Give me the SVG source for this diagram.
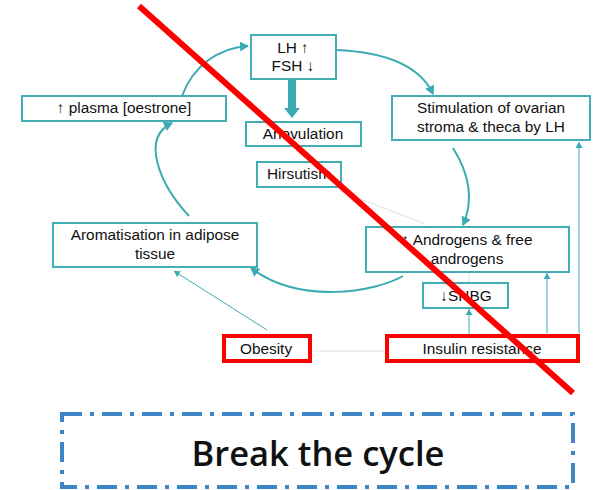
<svg xmlns="http://www.w3.org/2000/svg" width="595" height="490" viewBox="0 0 595 490">
<style>
.box{fill:#fff;stroke:#41adb5;stroke-width:2}
.rbox{fill:#fff;stroke:#ff0000;stroke-width:4}
.t{font-family:"Liberation Sans",Arial,sans-serif;font-size:15.4px;fill:#111;text-anchor:middle}
.c{fill:none;stroke:#3aabb3;stroke-width:2}
.thin{fill:none;stroke:#3aabb3;stroke-width:1}
.faint{fill:none;stroke:#e2e2e2;stroke-width:1.2}
</style>
<defs>
<marker id="ah" markerWidth="10" markerHeight="10" refX="8" refY="5" orient="auto" markerUnits="userSpaceOnUse">
<path d="M0,0 L9,5 L0,10 Z" fill="#3aabb3"/>
</marker>
<marker id="ahs" markerWidth="7" markerHeight="7" refX="6" refY="3.5" orient="auto" markerUnits="userSpaceOnUse">
<path d="M0,0 L6,3.5 L0,7 Z" fill="#3aabb3"/>
</marker>
</defs>
<rect width="595" height="490" fill="#fff"/>
<g id="connectors">
<path class="c" d="M182,96 C193,66 218,48 248,46" marker-end="url(#ah)"/>
<path class="c" d="M336,50 C385,52 420,66 433,94" marker-end="url(#ah)"/>
<path class="c" d="M453,148 C470,175 474,200 463,225" marker-end="url(#ah)"/>
<path class="c" d="M403,276 C375,292 300,305 251,268" marker-end="url(#ah)"/>
<path class="c" d="M189,216 C160,185 140,138 172,123" marker-end="url(#ah)"/>
<path d="M288,80 H296 V108 H300 L292,118 L284,108 H288 Z" fill="#3aabb3"/>
<path class="thin" d="M267,330 L174,271" marker-end="url(#ahs)"/>
<path class="thin" d="M469,335 V309" marker-end="url(#ahs)"/>
<path class="thin" d="M547,333 V273" marker-end="url(#ahs)"/>
<path class="thin" d="M579,333 V142" marker-end="url(#ahs)"/>
<path class="faint" d="M313,351 H385"/>
<path class="faint" d="M340,191 L425,224"/>
<path class="faint" d="M469,272 V283"/>
</g>
<g id="lh">
<rect class="box" x="251" y="35" width="85" height="44"/>
<text class="t" x="293" y="53">LH ↑</text>
<text class="t" x="293" y="71">FSH ↓</text>
</g>
<g id="plasma">
<rect class="box" x="22" y="96" width="204" height="25"/>
<text class="t" x="124" y="113">↑ plasma [oestrone]</text>
</g>
<g id="anovulation">
<rect class="box" x="246" y="122" width="115" height="24"/>
<text class="t" x="303" y="139">Anovulation</text>
</g>
<g id="hirsutism">
<rect class="box" x="257" y="162" width="84" height="25"/>
<text class="t" x="299" y="179">Hirsutism</text>
</g>
<g id="stimulation">
<rect class="box" x="392" y="96" width="198" height="44"/>
<text class="t" x="491" y="113">Stimulation of ovarian</text>
<text class="t" x="491" y="132">stroma &amp; theca by LH</text>
</g>
<g id="androgens">
<rect class="box" x="366" y="227" width="203" height="45"/>
<text class="t" x="467" y="245">↑ Androgens &amp; free</text>
<text class="t" x="467" y="264">androgens</text>
</g>
<g id="aromatisation">
<rect class="box" x="53" y="223" width="204" height="44"/>
<text class="t" x="155" y="240">Aromatisation in adipose</text>
<text class="t" x="155" y="259">tissue</text>
</g>
<g id="shbg">
<rect class="box" x="423" y="283" width="85" height="25"/>
<text class="t" x="466" y="301">↓SHBG</text>
</g>
<g id="obesity">
<rect class="rbox" x="224" y="336" width="86" height="25"/>
<text class="t" x="266" y="354">Obesity</text>
</g>
<g id="insulin">
<rect class="rbox" x="387" y="336" width="191" height="25"/>
<text class="t" x="482" y="354">Insulin resistance</text>
</g>
<g id="cross">
<line x1="139" y1="6" x2="573" y2="393" stroke="#ff0000" stroke-width="6"/>
</g>
<g id="break">
<rect x="62" y="414" width="511" height="73" fill="none" stroke="#3d85c6" stroke-width="4" stroke-dasharray="20 8 4 8"/>
<text x="318" y="466" font-family="'Open Sans','Noto Sans',sans-serif" font-size="34.5" font-weight="600" fill="#111" text-anchor="middle">Break the cycle</text>
</g>
</svg>
